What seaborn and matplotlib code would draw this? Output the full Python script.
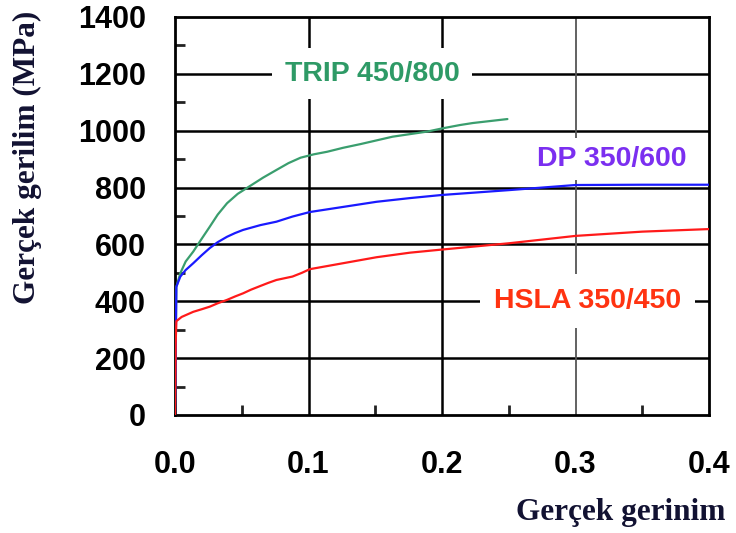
import matplotlib
matplotlib.use("Agg")
import matplotlib.pyplot as plt
import seaborn as sns
import pandas as pd

# True stress-strain curves for three steel grades
trip_strain = [0, 0.0005, 0.001, 0.004, 0.008, 0.0137, 0.02, 0.026, 0.032, 0.039,
               0.047, 0.056, 0.066, 0.076, 0.085, 0.094, 0.104, 0.114, 0.126, 0.139,
               0.151, 0.163, 0.176, 0.189, 0.2, 0.2135, 0.223, 0.236, 0.249]
trip_stress = [0, 250, 450, 499, 540, 575, 620, 662, 705, 745,
               778, 805, 835, 862, 886, 905, 917, 926, 940, 953,
               966, 979, 988, 997, 1008, 1020, 1027, 1034, 1041]

dp_strain = [0, 0.0005, 0.001, 0.004, 0.008, 0.0137, 0.02, 0.026, 0.032, 0.039,
             0.045, 0.051, 0.064, 0.076, 0.088, 0.101, 0.126, 0.151, 0.176, 0.2,
             0.25, 0.3, 0.35, 0.4]
dp_stress = [0, 200, 451, 487, 510, 534, 562, 587, 608, 627,
             640, 651, 668, 680, 698, 714, 732, 750, 763, 774,
             791, 809, 810, 810]

hsla_strain = [0, 0.0005, 0.001, 0.005, 0.0137, 0.02, 0.026, 0.032, 0.039, 0.045,
               0.051, 0.057, 0.064, 0.07, 0.076, 0.082, 0.088, 0.095, 0.101, 0.126,
               0.151, 0.176, 0.2, 0.25, 0.3, 0.35, 0.4]
hsla_stress = [0, 250, 330, 345, 363, 372, 381, 393, 405, 417,
               428, 441, 454, 465, 475, 481, 487, 500, 513, 534,
               555, 571, 582, 604, 630, 645, 654]

series_names = ["TRIP 450/800", "DP 350/600", "HSLA 350/450"]
line_colors = ["#3a9e6e", "#1a1aff", "#ff1a1a"]
label_colors = ["#2e9a66", "#7b2ff0", "#ff3311"]
label_pos = [(0.1476, 1200), (0.327, 900), (0.309, 400)]
label_pads = [9, 6, 10]

x_ticks = [0.0, 0.1, 0.2, 0.3, 0.4]
x_tick_labels = ["0.0", "0.1", "0.2", "0.3", "0.4"]
y_ticks = [0, 200, 400, 600, 800, 1000, 1200, 1400]

sns.set_theme(style="white")
plt.rcParams["font.family"] = ["Liberation Sans", "DejaVu Sans"]

fig = plt.figure(figsize=(7.36, 5.33), dpi=100)
ax = fig.add_axes([175 / 736, 1 - 415 / 533, 534 / 736, 398 / 533])

curves = [(trip_strain, trip_stress), (dp_strain, dp_stress), (hsla_strain, hsla_stress)]
for (xs, ys), name, col in zip(curves, series_names, line_colors):
    df = pd.DataFrame({"strain": xs, "stress": ys})
    sns.lineplot(data=df, x="strain", y="stress", sort=False, estimator=None,
                 color=col, linewidth=1.6, ax=ax, zorder=4)

ax.set_xlim(0, 0.4)
ax.set_ylim(0, 1400)

# grid
for yv in y_ticks[1:-1]:
    ax.axhline(yv, color="black", linewidth=1.8, zorder=1)
for xv in [0.1, 0.2]:
    ax.axvline(xv, color="black", linewidth=1.8, zorder=1)
ax.axvline(0.3, color="#555555", linewidth=1.3, zorder=1)

for s in ax.spines.values():
    s.set_visible(True)
    s.set_color("black")
    s.set_linewidth(2.0)

ax.set_xticks(x_ticks)
ax.set_xticklabels(x_tick_labels)
ax.set_yticks(y_ticks)
ax.set_xticks([0.05, 0.15, 0.25, 0.35], minor=True)
ax.set_yticks([100, 300, 500, 700, 900, 1100, 1300], minor=True)
ax.tick_params(axis="both", which="major", length=0, labelsize=22, labelcolor="black")
ax.tick_params(axis="x", which="major", pad=25)
ax.tick_params(axis="y", which="major", pad=21)
ax.tick_params(axis="both", which="minor", direction="in", length=7, width=2,
               color="#222222", left=True, bottom=True)
for lab in ax.get_xticklabels() + ax.get_yticklabels():
    lab.set_fontweight("bold")

ax.set_xlabel("Gerçek gerinim", fontsize=22.5, fontweight="bold",
              family=["Liberation Serif"], color="#121232")
ax.xaxis.set_label_coords(0.835, -0.244)
ax.xaxis.label.set_va("center")
ax.set_ylabel("Gerçek gerilim (MPa)", fontsize=22.5, fontweight="bold",
              family=["Liberation Serif"], color="#121232")
ax.yaxis.set_label_coords(-0.277, 0.648)
ax.yaxis.label.set_va("center")

for name, col, (lx, ly), pd_ in zip(series_names, label_colors, label_pos, label_pads):
    ax.text(lx, ly, name, color=col, fontsize=20.5, fontweight="bold",
            ha="center", va="center", zorder=3,
            bbox=dict(facecolor="white", edgecolor="none", pad=pd_))

fig.savefig("out.png", dpi=100)
